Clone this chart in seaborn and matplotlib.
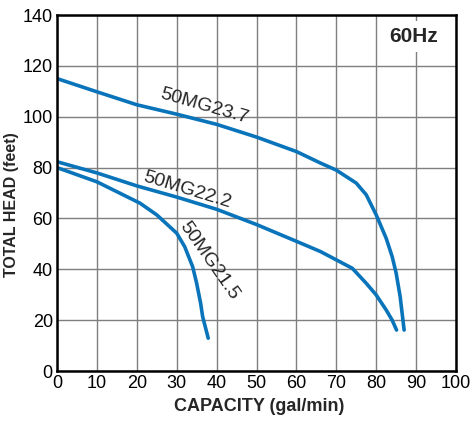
import matplotlib
matplotlib.use("Agg")
import matplotlib.pyplot as plt
import seaborn as sns
import pandas as pd

# pump curves
q_237 = [0, 10, 20, 30, 40, 50, 60, 66, 70, 75, 77.5, 80, 82.5, 84, 85, 86, 87]
h_237 = [115, 109.8, 104.7, 101, 97, 92, 86.3, 81.8, 79, 73.9, 69.3, 61.4, 52.2, 45, 38.5, 29.3, 16.1]

q_222 = [0, 10, 20, 30, 40, 46, 50, 60, 66, 70, 74, 77.5, 80, 82.5, 84, 85.1]
h_222 = [82.3, 77.9, 72.8, 68.4, 63.6, 60.0, 57.6, 51, 47, 43.7, 40.4, 34.5, 29.9, 24, 20, 16.1]

q_215 = [0, 10, 20.8, 25, 30, 32, 34, 35, 36, 36.5, 37.9]
h_215 = [80, 74.4, 66, 61.4, 54.2, 48.9, 41, 34.5, 26.6, 21.4, 12.9]

names = ["50MG23.7", "50MG22.2", "50MG21.5"]
x_ticks = list(range(0, 101, 10))
y_ticks = list(range(0, 141, 20))

df = pd.concat([
    pd.DataFrame({"q": q_237, "h": h_237, "model": names[0]}),
    pd.DataFrame({"q": q_222, "h": h_222, "model": names[1]}),
    pd.DataFrame({"q": q_215, "h": h_215, "model": names[2]}),
])

sns.set_style("white")
plt.rcParams['font.family'] = ['Liberation Sans', 'DejaVu Sans']

fig = plt.figure(figsize=(4.72, 4.21), dpi=100)
ax = fig.add_axes([57 / 472, 1 - 371 / 421, 399 / 472, 356 / 421])

blue = "#0a74bb"
sns.lineplot(data=df, x="q", y="h", hue="model", palette=[blue] * 3,
             sort=False, estimator=None, linewidth=2.6, legend=False, ax=ax)

ax.set_xlim(0, 100)
ax.set_ylim(0, 140)
ax.set_xticks(x_ticks)
ax.set_yticks(y_ticks)
ax.grid(True, color="#7f7f7f", linewidth=1)
ax.set_axisbelow(True)
ax.tick_params(length=0, labelsize=13, pad=3, colors="black")
for s in ax.spines.values():
    s.set_color("black")
    s.set_linewidth(1.8)

ax.set_xlabel("CAPACITY (gal/min)", fontsize=13, fontweight="bold")
ax.set_ylabel("TOTAL HEAD (feet)", fontsize=11.5, fontweight="bold")
ax.xaxis.set_label_coords(0.506, -0.075)
ax.yaxis.set_label_coords(-0.095, 0.466)

# curve labels
ax.text(37, 104, names[0], rotation=-16, fontsize=14, ha="center", va="center")
ax.text(32.6, 71.2, names[1], rotation=-17, fontsize=14, ha="center", va="center")
ax.text(38.1, 43.3, names[2], rotation=-55, fontsize=14, ha="center", va="center")

ax.text(89.5, 131.5, "60Hz", fontsize=15, fontweight="bold", ha="center", va="center",
        bbox=dict(facecolor="white", edgecolor="none", pad=4))

fig.savefig("out.png", dpi=100)
